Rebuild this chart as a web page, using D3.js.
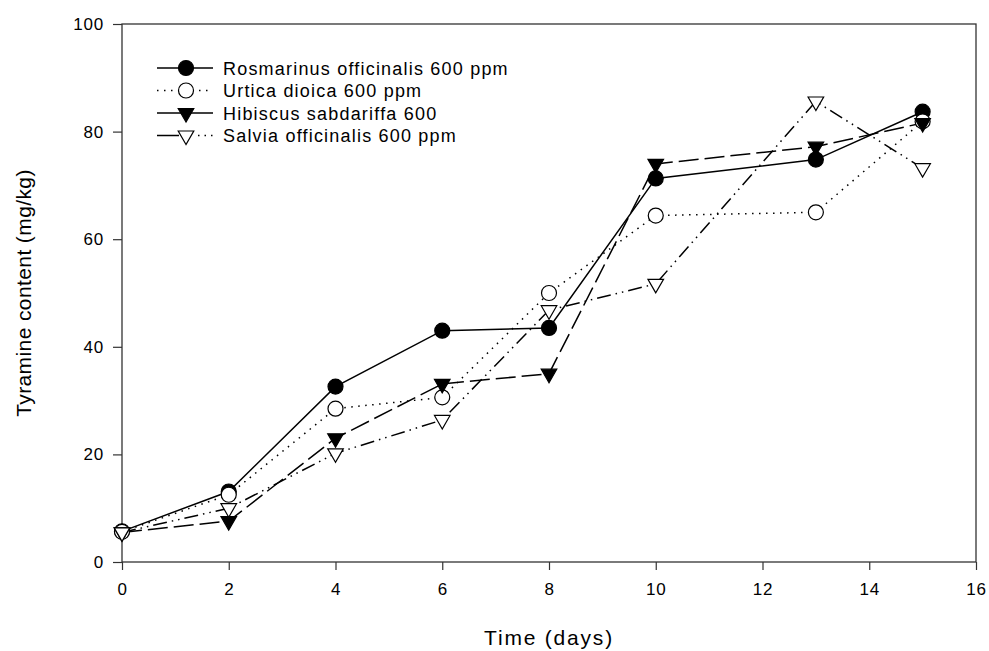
<!DOCTYPE html>
<html>
<head>
<meta charset="utf-8">
<script src="https://cdn.jsdelivr.net/npm/d3@7"></script>
<style>
  body { margin: 0; background: #fff; }
  svg text { font-family: "Liberation Sans", Arial, sans-serif; fill: #000; }
</style>
</head>
<body>
<svg id="chart" width="989" height="651"></svg>
<script>
// sampling days
const days = [0, 2, 4, 6, 8, 10, 13, 15];

// tyramine content (mg/kg) per treatment
const rosmarinus = [5.7, 13.1, 32.6, 43.0, 43.5, 71.3, 74.8, 83.7];
const urtica     = [5.6, 12.5, 28.5, 30.6, 50.0, 64.4, 65.0, 81.9];
const hibiscus   = [5.5, 7.6, 23.0, 33.1, 35.0, 74.0, 77.2, 81.6];
const salvia     = [5.5, 10.0, 20.2, 26.4, 46.8, 51.7, 85.6, 73.2];

const seriesNames = [
    "Rosmarinus officinalis 600 ppm",
    "Urtica dioica 600 ppm",
    "Hibiscus sabdariffa 600",
    "Salvia officinalis 600 ppm"
];

const xTicks = [0, 2, 4, 6, 8, 10, 12, 14, 16];
const yTicks = [0, 20, 40, 60, 80, 100];

const series = [
    { name: seriesNames[0], values: rosmarinus, marker: "circle",   fill: "#000", dash: null, legendDash: null },
    { name: seriesNames[1], values: urtica,     marker: "circle",   fill: "#fff", dash: "1.5,5.5", legendDash: "1.5,5.5" },
    { name: seriesNames[2], values: hibiscus,   marker: "triangle", fill: "#000", dash: "20,6", legendDash: null },
    { name: seriesNames[3], values: salvia,     marker: "triangle", fill: "#fff", dash: "14,5,1.5,5,1.5,5", legendDash: "22,19,1.5,5,1.5,5,1.5,10" }
];

const svg = d3.select("#chart");
const margin = { left: 122, right: 13, top: 24, bottom: 89 };
const width = 989 - margin.left - margin.right;
const height = 651 - margin.top - margin.bottom;

const x = d3.scaleLinear().domain([0, 16]).range([0, width]);
const y = d3.scaleLinear().domain([0, 100]).range([height, 0]);

const g = svg.append("g").attr("transform", `translate(${margin.left},${margin.top})`);

// frame
g.append("rect")
    .attr("width", width).attr("height", height)
    .attr("fill", "none").attr("stroke", "#333").attr("stroke-width", 1.3);

const xAxis = g.append("g")
    .attr("transform", `translate(0,${height})`)
    .call(d3.axisBottom(x).tickValues(xTicks).tickSize(8).tickPadding(13).tickFormat(d3.format("d")));
const yAxis = g.append("g")
    .call(d3.axisLeft(y).tickValues(yTicks).tickSize(9).tickPadding(9).tickFormat(d3.format("d")));

[xAxis, yAxis].forEach(a => {
    a.select(".domain").remove();
    a.selectAll("line").attr("stroke", "#333").attr("stroke-width", 1.2);
    a.selectAll("text").style("font-size", "17px").style("letter-spacing", "0.8px").attr("fill", "#000");
});

// axis titles
svg.append("text")
    .attr("x", margin.left + width / 2).attr("y", 645)
    .attr("text-anchor", "middle")
    .style("font-size", "21px").style("letter-spacing", "1.8px")
    .text("Time (days)");

svg.append("text")
    .attr("transform", `translate(31,${margin.top + height / 2}) rotate(-90)`)
    .attr("text-anchor", "middle")
    .style("font-size", "21px").style("letter-spacing", "0.4px")
    .text("Tyramine content (mg/kg)");

const line = d3.line().x(d => x(d[0])).y(d => y(d[1]));
const triangle = d3.symbol().type(d3.symbolTriangle).size(105);

function drawMarker(sel, s) {
    if (s.marker === "circle") {
        sel.append("circle").attr("r", 7.5);
    } else {
        sel.append("path").attr("d", triangle()).attr("transform", "rotate(180)");
    }
    sel.selectAll("circle, path")
        .attr("fill", s.fill).attr("stroke", "#000").attr("stroke-width", 1.2);
}

// lines then markers
series.forEach(s => {
    const pts = days.map((d, i) => [d, s.values[i]]);
    g.append("path")
        .datum(pts)
        .attr("d", line)
        .attr("fill", "none")
        .attr("stroke", "#000")
        .attr("stroke-width", 1.5)
        .attr("stroke-dasharray", s.dash);
});

series.forEach(s => {
    const pts = days.map((d, i) => [d, s.values[i]]);
    g.selectAll(null)
        .data(pts)
        .enter()
        .append("g")
        .attr("transform", d => `translate(${x(d[0])},${y(d[1])})`)
        .each(function() { drawMarker(d3.select(this), s); });
});

// legend
const legend = svg.append("g").attr("transform", "translate(157,68)");
series.forEach((s, i) => {
    const row = legend.append("g").attr("transform", `translate(0,${i * 22.5})`);
    row.append("line")
        .attr("x1", 0).attr("x2", 56)
        .attr("stroke", "#000").attr("stroke-width", 1.5)
        .attr("stroke-dasharray", s.legendDash);
    const m = row.append("g").attr("transform", "translate(29,0)");
    drawMarker(m, s);
    row.append("text")
        .attr("x", 66).attr("y", 6.5)
        .style("font-size", "18px").style("letter-spacing", "1.2px")
        .text(s.name);
});
</script>
</body>
</html>
